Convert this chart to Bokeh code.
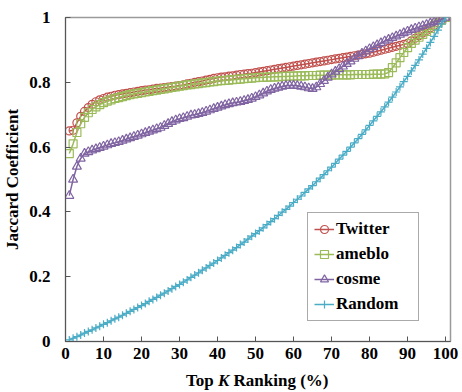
from bokeh.plotting import figure
from bokeh.models import FixedTicker, NumeralTickFormatter, Range1d, Div
from bokeh.layouts import column
from bokeh.embed import file_html
from bokeh.resources import INLINE

K = list(range(1, 101))

twitter = [
    0.650, 0.652, 0.675, 0.695, 0.710, 0.722, 0.732, 0.740, 0.746, 0.750,
    0.754, 0.757, 0.760, 0.762, 0.764, 0.766, 0.768, 0.770, 0.772, 0.774,
    0.776, 0.777, 0.779, 0.781, 0.782, 0.784, 0.785, 0.787, 0.788, 0.790,
    0.792, 0.795, 0.797, 0.800, 0.802, 0.804, 0.807, 0.809, 0.812, 0.814,
    0.816, 0.817, 0.819, 0.820, 0.822, 0.824, 0.825, 0.827, 0.828, 0.830,
    0.832, 0.834, 0.836, 0.838, 0.840, 0.842, 0.844, 0.846, 0.848, 0.850,
    0.852, 0.854, 0.856, 0.858, 0.860, 0.862, 0.864, 0.866, 0.868, 0.870,
    0.872, 0.874, 0.876, 0.878, 0.880, 0.882, 0.884, 0.886, 0.888, 0.890,
    0.893, 0.896, 0.899, 0.902, 0.905, 0.908, 0.911, 0.914, 0.917, 0.920,
    0.928, 0.936, 0.944, 0.952, 0.960, 0.968, 0.976, 0.984, 0.992, 1.000,
]

ameblo = [
    0.580, 0.610, 0.645, 0.672, 0.692, 0.706, 0.716, 0.724, 0.731, 0.737,
    0.742, 0.746, 0.750, 0.753, 0.756, 0.759, 0.762, 0.764, 0.766, 0.768,
    0.770, 0.772, 0.774, 0.776, 0.778, 0.780, 0.782, 0.784, 0.786, 0.788,
    0.790, 0.792, 0.793, 0.795, 0.796, 0.798, 0.799, 0.801, 0.802, 0.804,
    0.805, 0.806, 0.807, 0.808, 0.809, 0.810, 0.811, 0.812, 0.813, 0.814,
    0.815, 0.815, 0.816, 0.816, 0.817, 0.817, 0.818, 0.818, 0.819, 0.819,
    0.820, 0.820, 0.820, 0.821, 0.821, 0.821, 0.822, 0.822, 0.822, 0.822,
    0.823, 0.823, 0.823, 0.823, 0.823, 0.824, 0.824, 0.824, 0.824, 0.824,
    0.825, 0.825, 0.825, 0.826, 0.830, 0.845, 0.860, 0.876, 0.892, 0.907,
    0.920, 0.930, 0.939, 0.948, 0.957, 0.966, 0.975, 0.983, 0.992, 1.000,
]

cosme = [
    0.450, 0.500, 0.540, 0.565, 0.580, 0.585, 0.590, 0.594, 0.598, 0.602,
    0.606, 0.610, 0.613, 0.616, 0.620, 0.624, 0.628, 0.632, 0.636, 0.640,
    0.644, 0.648, 0.652, 0.656, 0.660, 0.666, 0.672, 0.678, 0.683, 0.687,
    0.690, 0.694, 0.698, 0.700, 0.703, 0.706, 0.710, 0.714, 0.718, 0.722,
    0.726, 0.730, 0.733, 0.736, 0.738, 0.740, 0.743, 0.746, 0.750, 0.755,
    0.760, 0.766, 0.772, 0.777, 0.781, 0.784, 0.787, 0.789, 0.790, 0.790,
    0.789, 0.787, 0.785, 0.782, 0.780, 0.785, 0.795, 0.805, 0.815, 0.825,
    0.833, 0.841, 0.849, 0.857, 0.865, 0.873, 0.881, 0.889, 0.896, 0.903,
    0.909, 0.915, 0.921, 0.927, 0.932, 0.937, 0.942, 0.947, 0.952, 0.957,
    0.962, 0.966, 0.970, 0.974, 0.978, 0.982, 0.986, 0.990, 0.995, 1.000,
]

random_ = [
    0.005, 0.010, 0.015, 0.020, 0.026, 0.031, 0.036, 0.042, 0.047, 0.053,
    0.058, 0.064, 0.070, 0.075, 0.081, 0.087, 0.093, 0.099, 0.105, 0.111,
    0.117, 0.124, 0.130, 0.136, 0.143, 0.149, 0.156, 0.163, 0.170, 0.176,
    0.183, 0.190, 0.198, 0.205, 0.212, 0.220, 0.227, 0.235, 0.242, 0.250,
    0.258, 0.266, 0.274, 0.282, 0.290, 0.299, 0.307, 0.316, 0.325, 0.333,
    0.342, 0.351, 0.361, 0.370, 0.379, 0.389, 0.399, 0.408, 0.418, 0.429,
    0.439, 0.449, 0.460, 0.471, 0.481, 0.493, 0.504, 0.515, 0.527, 0.538,
    0.550, 0.563, 0.575, 0.587, 0.600, 0.613, 0.626, 0.639, 0.653, 0.667,
    0.681, 0.695, 0.709, 0.724, 0.739, 0.754, 0.770, 0.786, 0.802, 0.818,
    0.835, 0.852, 0.869, 0.887, 0.905, 0.923, 0.942, 0.961, 0.980, 1.000,
]

series_names = ["Twitter", "ameblo", "cosme", "Random"]
series_values = [twitter, ameblo, cosme, random_]
series_colors = ["#C0504D", "#9BBB59", "#8064A2", "#4BACC6"]
series_markers = ["circle", "square", "triangle", "cross"]

x_ticks = [0, 10, 20, 30, 40, 50, 60, 70, 80, 90, 100]
y_ticks = [0, 0.2, 0.4, 0.6, 0.8, 1]

FONT = "Liberation Serif"
FS = "17px"

p = figure(width=462, height=370, output_backend="svg", toolbar_location=None,
           x_range=Range1d(0, 101.3), y_range=Range1d(0, 1),
           min_border_left=65, min_border_right=12, min_border_top=17, min_border_bottom=29)

p.xgrid.visible = False
p.ygrid.visible = False
p.outline_line_color = "#9a9a9a"
p.outline_line_width = 1.5

for ax in (p.xaxis[0], p.yaxis[0]):
    ax.major_tick_in = 5
    ax.major_tick_out = 0
    ax.minor_tick_in = 0
    ax.minor_tick_out = 0
    ax.axis_line_color = "#555555"
    ax.major_tick_line_color = "#555555"
    ax.major_label_text_font = FONT
    ax.major_label_text_font_style = "bold"
    ax.major_label_text_font_size = FS
    ax.major_label_text_color = "black"

p.xaxis.ticker = FixedTicker(ticks=x_ticks)
p.yaxis.ticker = FixedTicker(ticks=y_ticks)
p.yaxis.formatter = NumeralTickFormatter(format="0.[0]")
p.xaxis.major_label_standoff = 6
p.yaxis.major_label_standoff = 15

p.yaxis.axis_label = "Jaccard Coefficient"
p.yaxis.axis_label_text_font = FONT
p.yaxis.axis_label_text_font_style = "bold"
p.yaxis.axis_label_text_font_size = FS
p.yaxis.axis_label_text_color = "black"
p.yaxis.axis_label_standoff = 4

for name, vals, col, mk in zip(series_names, series_values, series_colors, series_markers):
    p.line(K, vals, line_color=col, line_width=1.5, legend_label=name)
    p.scatter(K, vals, marker=mk, size=8 if mk != "triangle" else 9,
              line_color=col, fill_color=None, line_width=1.2, legend_label=name)

lg = p.legend[0]
lg.location = (242, 20)
lg.margin = 0
lg.padding = 6
lg.spacing = 5
lg.label_height = 20
lg.glyph_height = 20
lg.glyph_width = 20
lg.label_standoff = 2
lg.label_width = 76
lg.border_line_color = "#555555"
lg.border_line_width = 1
lg.background_fill_color = "white"
lg.background_fill_alpha = 1
lg.label_text_font = FONT
lg.label_text_font_style = "bold"
lg.label_text_font_size = FS
lg.label_text_color = "black"

xlabel = Div(
    text=('<div style="margin-left:186px;font-family:\'Liberation Serif\';'
          'font-weight:bold;font-size:17px;line-height:22px;color:black;'
          'white-space:nowrap;">Top <i>K</i> Ranking (%)</div>'),
    width=462, height=22, margin=0)

layout = column(p, xlabel, spacing=0)

open("out.html", "w").write(file_html(layout, INLINE))
